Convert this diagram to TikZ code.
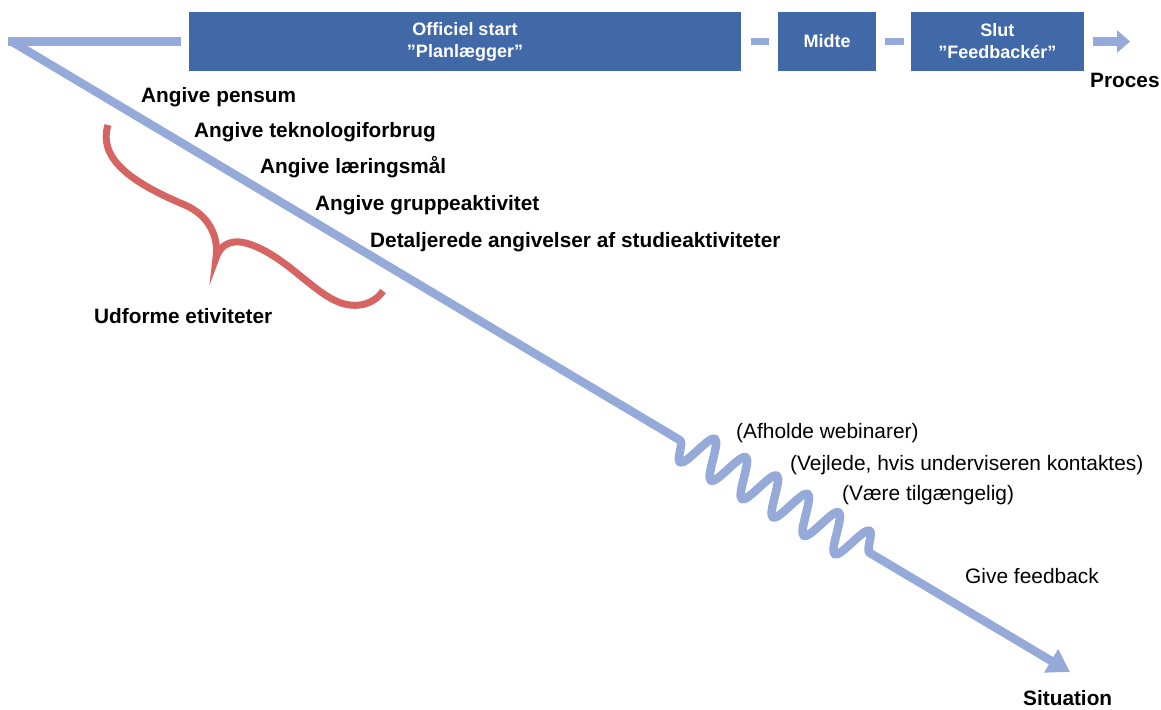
\documentclass[tikz,border=0pt]{standalone}
\usepackage{fontspec}
\setmainfont{Liberation Sans}
\usetikzlibrary{
  positioning,
  calc,
  arrows.meta,
  decorations.pathmorphing
}
\definecolor{boxblue}{RGB}{65,105,168}
\definecolor{flowblue}{RGB}{150,170,218}
\definecolor{bracered}{RGB}{213,100,98}

\begin{document}
\begin{tikzpicture}[
    x=1pt, y=-1pt,
    phase/.style={
      fill=boxblue,
      text=white,
      font=\bfseries\fontsize{18}{22}\selectfont,
      align=center,
      minimum height=59pt,
      inner sep=0pt
      },
    task/.style={anchor=base west, inner sep=0pt, font=\bfseries\fontsize{20.8}{24}\selectfont},
    note/.style={anchor=base west, inner sep=0pt, font=\fontsize{20.9}{24}\selectfont},
    flow/.style={draw=flowblue, line width=8.5pt},
    link/.style={draw=flowblue, line width=7pt}
    ]
\useasboundingbox (0,0) rectangle (1161,709);

% phases along the top
\node [phase, minimum width=552pt] (start) at (465,41.5) {Officiel start\\”Planlægger”};
\node [phase, minimum width=98.5pt, right=36.5pt of start] (midte) {Midte};
\node [phase, minimum width=173pt, right=34pt of midte] (slut) {Slut\\”Feedbackér”};

\draw [link] ([xshift=10pt]start.east) -- ([xshift=-9pt]midte.west);
\draw [link] ([xshift=8pt]midte.east) -- ([xshift=-7pt]slut.west);

\coordinate (procesend) at (1130,41.5);
\draw [flow, -{Triangle[length=13pt,width=22pt]}] ([xshift=9pt]slut.east) -- (procesend);
\node [task] (proces) at (1090,88) {Proces};

% the main line with the wave
\coordinate (corner) at (8,41.5);
\coordinate (wavein) at (680,440.2);
\coordinate (waveout) at (877.7,557.6);
\coordinate (tip) at (1070,672);
\draw [flow] (corner) -- ([xshift=-8pt]start.west);
\draw [flow, line join=round, -{Triangle[length=22pt,width=26pt]}]
  ([xshift=2pt,yshift=1pt]corner) -- (wavein)
  decorate [decoration={snake, amplitude=19pt, segment length=36pt, mirror}] { -- (waveout) }
  -- (tip);
\node [task] (situation) at (1023,705) {Situation};

% design activities
\node [task] (pensum) at (141,102) {Angive pensum};
\node [task] (teknologi) at (194,137) {Angive teknologiforbrug};
\node [task] (maal) at (260,173) {Angive læringsmål};
\node [task] (gruppe) at (315,210) {Angive gruppeaktivitet};
\node [task] (detaljer) at (370,247) {Detaljerede angivelser af studieaktiviteter};

\draw [draw=bracered, line width=7pt]
  (108,125) .. controls (98,158) and (130,182) .. (185,205)
  .. controls (210,216) and (219,238) .. (216,258)
  .. controls (221,243) and (233,238) .. (252,245)
  .. controls (292,260) and (320,302) .. (350,305)
  .. controls (365,307) and (377,300) .. (383,291);
\node [task] (udforme) at (94,323) {Udforme etiviteter};

% during the course
\node [note] (webinar) at (736,438) {(Afholde webinarer)};
\node [note] (vejlede) at (790,470) {(Vejlede, hvis underviseren kontaktes)};
\node [note] (tilgaengelig) at (842,500) {(Være tilgængelig)};
\node [note] (feedback) at (965,583) {Give feedback};
\end{tikzpicture}
\end{document}
